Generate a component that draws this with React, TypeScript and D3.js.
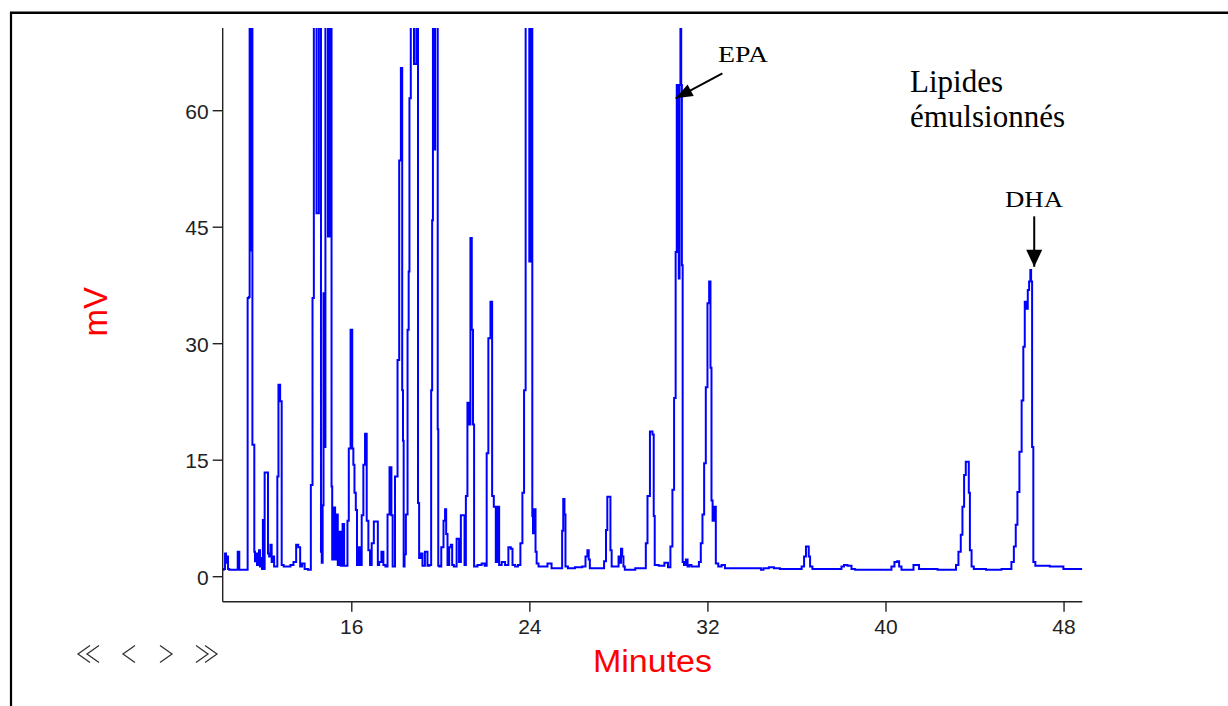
import React from 'react';
import * as d3 from 'd3';

type Pt = [number, number];

// tick labels
const xTicks = [16, 24, 32, 40, 48];
const yTicks = [0, 15, 30, 45, 60];
const xDomain: Pt = [10.2, 48.82];
const yDomain: Pt = [-3.22, 70.65];

// chromatogram trace, [minutes, mV] (values above ~70 mV are off-scale)
const trace1: Pt[] = [
  [10.21, 0.9], [10.28, 1.0], [10.33, 3.0], [10.37, 1.8], [10.42, 2.6], [10.46, 1.0], [10.53, 0.9],
  [10.84, 0.9], [10.91, 3.2], [10.98, 0.9], [11.29, 0.9], [11.35, 35.9], [11.4, 36], [11.42, 200],
  [11.46, 42], [11.48, 200], [11.53, 200], [11.54, 17], [11.61, 17], [11.63, 3.2], [11.67, 2.0],
  [11.72, 3.0], [11.76, 1.5], [11.81, 2.5], [11.85, 3.4], [11.9, 1.3], [11.94, 2.4], [11.99, 1.0],
  [12.02, 7.3], [12.06, 1.0], [12.11, 13.4], [12.22, 13.4], [12.25, 3.0], [12.32, 2.6], [12.37, 4.1],
  [12.43, 1.9], [12.47, 2.6], [12.55, 1.3], [12.64, 1.3], [12.67, 12.9], [12.74, 24.7], [12.82, 22.6],
  [12.88, 1.5],
];
const trace2: Pt[] = [
  [13.0, 1.3], [13.18, 1.3], [13.31, 1.5], [13.45, 1.9], [13.55, 4.1], [13.64, 3.8], [13.72, 1.3],
  [13.82, 1.7], [13.94, 1.0], [14.12, 0.9], [14.2, 11.8], [14.27, 35.9], [14.32, 200], [14.39, 200],
  [14.44, 46.8], [14.5, 46.8], [14.54, 200], [14.6, 200], [14.63, 3.2], [14.67, 1.8], [14.71, 9.2],
  [14.75, 36.5], [14.8, 16.7], [14.83, 200], [14.91, 200], [14.95, 43.8], [15.0, 43.8], [15.03, 200],
  [15.08, 200], [15.1, 11.6], [15.14, 2.2], [15.21, 8.9], [15.29, 2.2], [15.35, 8.0], [15.39, 1.5],
  [15.47, 5.8],
];
const trace3: Pt[] = [
  [15.55, 1.4], [15.62, 6.8], [15.69, 1.4], [15.77, 1.4], [15.84, 7.2], [15.89, 16.5], [16.0, 31.8],
  [16.04, 16.5], [16.1, 14.4], [16.14, 10.8], [16.22, 8.6], [16.25, 1.5], [16.34, 3.8], [16.4, 1.5],
  [16.49, 7.9], [16.55, 14.4], [16.64, 18.4], [16.7, 7.2], [16.79, 3.4], [16.85, 1.5], [16.94, 4.3],
  [17.04, 7.1], [17.15, 7.1], [17.19, 1.5], [17.27, 1.9], [17.39, 3.2], [17.45, 1.5], [17.57, 1.3],
  [17.64, 8.0], [17.75, 14.1], [17.81, 7.9], [17.86, 1.3],
];
const trace4: Pt[] = [
  [18.02, 12.9], [18.09, 27.9], [18.17, 53.6], [18.24, 65.5], [18.29, 24], [18.31, 17.5], [18.35, 1.3],
  [18.39, 2.9], [18.47, 8.0], [18.54, 31.8], [18.57, 39.3], [18.61, 61.6], [18.69, 200], [18.77, 200],
  [18.82, 66], [18.88, 66], [18.92, 200], [18.96, 200], [18.99, 9.5], [19.06, 2.4], [19.14, 3.0],
  [19.21, 1.4], [19.36, 3.2], [19.44, 1.4], [19.54, 1.5], [19.59, 24], [19.63, 45.9], [19.66, 200],
  [19.72, 55], [19.77, 200], [19.85, 200], [19.87, 19], [19.9, 1.4], [19.96, 1.3], [20.08, 3.8],
  [20.16, 7.2], [20.22, 8.7], [20.26, 5.5], [20.34, 1.5], [20.41, 3.8], [20.49, 4.1], [20.53, 1.5],
];
const trace5: Pt[] = [
  [20.64, 1.3], [20.78, 4.9], [20.86, 1.9], [20.94, 7.9], [21.04, 7.9], [21.09, 1.5], [21.16, 10.4],
  [21.23, 22.4], [21.31, 19.6], [21.35, 43.6], [21.43, 31.8], [21.46, 19.6], [21.53, 1.3], [21.76, 1.5],
  [21.91, 1.7], [22.03, 1.4], [22.09, 15.9], [22.18, 30.7], [22.28, 35.4], [22.33, 10.4], [22.43, 9.0],
  [22.51, 1.9], [22.58, 9.0], [22.66, 1.5], [22.81, 1.9], [22.96, 1.5], [23.11, 3.8], [23.18, 3.6],
  [23.26, 1.5], [23.41, 1.3], [23.52, 1.5], [23.63, 4.3], [23.7, 10.8], [23.78, 24], [23.84, 200],
  [23.96, 200], [23.99, 40.6], [24.02, 40.6], [24.05, 200], [24.09, 200], [24.13, 7.8], [24.15, 5.6],
  [24.23, 8.7], [24.28, 3.2], [24.33, 1.7], [24.45, 1.3], [24.68, 1.3], [24.9, 1.7], [25.05, 1.1],
];
const trace6: Pt[] = [
  [25.35, 1.1], [25.43, 1.1], [25.47, 5.9], [25.53, 10], [25.58, 8.0], [25.62, 1.3], [25.8, 1.1],
  [26.25, 1.2], [26.45, 1.3], [26.55, 2.6], [26.62, 3.4], [26.67, 2.2], [26.72, 1.1], [27.28, 1.1],
  [27.39, 2.0], [27.45, 6.0], [27.51, 10.3], [27.6, 10.3], [27.64, 3.4], [27.71, 1.3], [27.95, 1.3],
  [28.02, 2.6], [28.07, 1.8], [28.12, 3.6], [28.18, 2.6], [28.23, 1.3], [28.3, 0.9], [29.17, 1.1],
  [29.25, 4.3], [29.32, 10.4], [29.47, 18.7], [29.55, 18.3], [29.58, 7.8], [29.64, 1.5], [29.94, 1.4],
  [30.15, 1.8], [30.26, 1.2], [30.37, 3.9], [30.44, 11.2], [30.52, 23], [30.58, 41.8], [30.62, 63.3],
  [30.67, 63.3], [30.71, 38.4], [30.74, 63.3], [30.79, 200], [30.81, 63.3], [30.85, 40.1], [30.88, 1.9],
  [30.97, 1.5], [31.05, 2.2], [31.12, 1.3], [31.19, 1.5], [31.33, 1.3], [31.55, 1.3], [31.64, 1.9],
  [31.72, 4.3], [31.79, 8.0], [31.87, 14.6], [31.94, 24.4], [32.02, 35.2], [32.09, 38], [32.14, 26.9],
  [32.18, 9.8], [32.24, 7.2], [32.32, 9.0], [32.39, 1.7], [32.54, 1.3], [32.69, 1.5], [32.84, 1.1],
  [34.34, 1.1], [34.43, 0.9], [34.56, 1.1], [34.92, 1.2], [35.01, 1.1], [35.46, 1.0],
];
const trace7: Pt[] = [
  [36.14, 1.0], [36.28, 1.3], [36.36, 2.6], [36.45, 3.9], [36.51, 3.9], [36.55, 2.6], [36.63, 1.3],
  [36.76, 1.0], [37.93, 1.0], [38.07, 1.3], [38.16, 1.5], [38.38, 1.4], [38.52, 1.0], [38.7, 0.9],
  [40.18, 0.9], [40.31, 1.3], [40.45, 1.9], [40.55, 2.0], [40.63, 1.3], [40.76, 0.9], [41.17, 0.9],
  [41.3, 1.5], [41.44, 1.5], [41.53, 1.0], [43.1, 0.9], [43.19, 1.5], [43.32, 3.2], [43.4, 5.4],
  [43.47, 9.0], [43.55, 13.1], [43.62, 14.8], [43.7, 14.8], [43.74, 10.8], [43.8, 3.4], [43.89, 1.3],
  [44.0, 1.0], [44.45, 1.0], [44.54, 0.9], [44.81, 0.9], [45.57, 1.0], [45.7, 1.9], [45.79, 3.9],
  [45.87, 6.7], [45.94, 10.9], [46.05, 16.1], [46.14, 22.7], [46.2, 29.6], [46.27, 35.4], [46.35, 34.5],
  [46.39, 36.9], [46.47, 38], [46.5, 39.5], [46.54, 38], [46.59, 16.7], [46.65, 1.9], [46.77, 1.4],
  [47.95, 1.3], [47.99, 1.0], [48.82, 1.0],
];

// annotation anchors [minutes, mV]
const epaTail: Pt = [32.65, 64.8];
const epaTip: Pt = [30.55, 61.6];
const dhaTail: Pt = [46.66, 46.4];
const dhaTip: Pt = [46.66, 39.9];

const W = 1228;
const H = 706;
const plot = { left: 222.7, right: 1082.3, top: 28, bottom: 601.7 };

function arrowHead(tail: [number, number], tip: [number, number], len: number, half: number) {
  const dx = tip[0] - tail[0];
  const dy = tip[1] - tail[1];
  const l = Math.hypot(dx, dy);
  const ux = dx / l, uy = dy / l;
  const bx = tip[0] - ux * len, by = tip[1] - uy * len;
  const px = -uy, py = ux;
  return `M${tip[0]},${tip[1]}L${bx + px * half},${by + py * half}L${bx - px * half},${by - py * half}Z`;
}

export default function App() {
  const x = d3.scaleLinear().domain(xDomain).range([plot.left, plot.right]);
  const y = d3.scaleLinear().domain(yDomain).range([plot.bottom, plot.top]);
  const data = [...trace1, ...trace2, ...trace3, ...trace4, ...trace5, ...trace6, ...trace7];
  const line = d3.line<Pt>().x(d => x(d[0])).y(d => y(d[1])).curve(d3.curveStep);

  const eTail: [number, number] = [x(epaTail[0]), y(epaTail[1])];
  const eTip: [number, number] = [x(epaTip[0]), y(epaTip[1])];
  const dTail: [number, number] = [x(dhaTail[0]), y(dhaTail[1])];
  const dTip: [number, number] = [x(dhaTip[0]), y(dhaTip[1])];

  const axisFont = "'Liberation Sans', Arial, sans-serif";
  const serif = "'Liberation Serif', 'Times New Roman', serif";
  const nav = '#333';

  return (
    <div style={{ position: 'absolute', left: 0, top: 0, width: W, height: H, background: '#fff' }}>
      <svg width={W} height={H} viewBox={`0 0 ${W} ${H}`} style={{ display: 'block' }}>
        <rect width={W} height={H} fill="#fff" />
        {/* frame */}
        <line x1={10} x2={W} y1={12.8} y2={12.8} stroke="#000" strokeWidth={2.4} />
        <line x1={11} x2={11} y1={12} y2={H} stroke="#000" strokeWidth={2.2} />

        <defs>
          <clipPath id="plotClip">
            <rect x={plot.left} y={plot.top} width={plot.right - plot.left} height={plot.bottom - plot.top} />
          </clipPath>
        </defs>

        <path d={line(data) || ''} fill="none" stroke="#0000ff" strokeWidth={2}
          strokeLinejoin="miter" clipPath="url(#plotClip)" />

        {/* axes */}
        <line x1={plot.left} x2={plot.left} y1={plot.top} y2={plot.bottom} stroke="#222" strokeWidth={1.4} />
        <line x1={plot.left} x2={plot.right} y1={plot.bottom} y2={plot.bottom} stroke="#222" strokeWidth={1.4} />
        {yTicks.map(v => (
          <g key={'y' + v}>
            <line x1={plot.left - 10} x2={plot.left} y1={y(v)} y2={y(v)} stroke="#222" strokeWidth={1.4} />
            <text x={plot.left - 14} y={y(v) + 8} textAnchor="end" fontFamily={axisFont} fontSize={21} fill="#222">{v}</text>
          </g>
        ))}
        {xTicks.map(t => (
          <g key={'x' + t}>
            <line x1={x(t)} x2={x(t)} y1={plot.bottom} y2={plot.bottom + 10} stroke="#222" strokeWidth={1.4} />
            <text x={x(t)} y={634} textAnchor="middle" fontFamily={axisFont} fontSize={21} fill="#222">{t}</text>
          </g>
        ))}

        {/* axis titles */}
        <text transform="translate(107,311.7) rotate(-90)" textAnchor="middle" fontFamily={axisFont}
          fontSize={33} fill="#ff0000">mV</text>
        <text x={593} y={671.7} fontFamily={axisFont} fontSize={31} fill="#ff0000"
          textLength={119} lengthAdjust="spacingAndGlyphs">Minutes</text>

        {/* annotations */}
        <text x={718} y={61.7} fontFamily={serif} fontSize={24} fill="#000" textLength={50} lengthAdjust="spacingAndGlyphs">EPA</text>
        <line x1={eTail[0]} y1={eTail[1]} x2={eTip[0]} y2={eTip[1]} stroke="#000" strokeWidth={2} />
        <path d={arrowHead(eTail, eTip, 17, 6.5)} fill="#000" />

        <text x={1005} y={207} fontFamily={serif} fontSize={24} fill="#000" textLength={58} lengthAdjust="spacingAndGlyphs">DHA</text>
        <line x1={dTail[0]} y1={dTail[1]} x2={dTip[0]} y2={dTip[1]} stroke="#000" strokeWidth={2} />
        <path d={arrowHead(dTail, dTip, 17, 8)} fill="#000" />

        <text x={910} y={91.7} fontFamily={serif} fontSize={31} fill="#000">Lipides</text>
        <text x={910} y={126.7} fontFamily={serif} fontSize={31} fill="#000">émulsionnés</text>

        {/* navigation chevrons */}
        <g fill="none" stroke={nav} strokeWidth={1.3}>
          <path d="M90,645.5L78,654L90,662.5" />
          <path d="M99,645.5L87,654L99,662.5" />
          <path d="M135,645.5L123,654L135,662.5" />
          <path d="M160,645.5L172,654L160,662.5" />
          <path d="M196,645.5L208,654L196,662.5" />
          <path d="M205,645.5L217,654L205,662.5" />
        </g>
      </svg>
    </div>
  );
}
